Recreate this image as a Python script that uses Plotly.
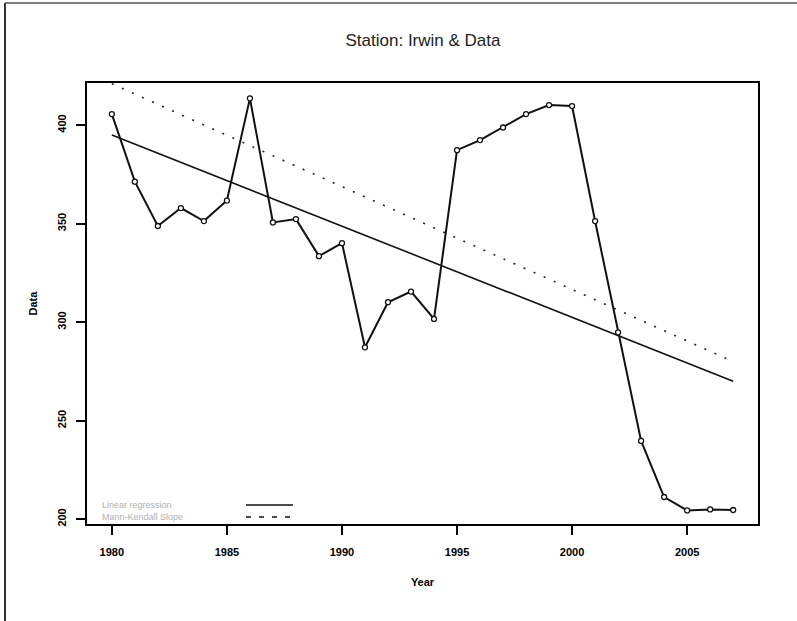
import plotly.graph_objects as go

# values
years = list(range(1980, 2008))
data = [405.6, 371.3, 348.8, 357.9, 351.3, 361.7, 413.6, 350.6, 352.3, 333.5,
        340.1, 287.2, 310.1, 315.5, 301.6, 387.3, 392.4, 398.8, 405.6, 410.2,
        409.7, 351.3, 294.8, 239.7, 211.2, 204.4, 204.9, 204.6]

trend_years = [1980, 2007]
linreg_ends = [395.0, 270.0]
mk_ends = [421.0, 280.0]

legend_labels = ['Linear regression', 'Mann-Kendall Slope']

W, H = 797, 621
L, R, T, B = 87, 39, 83, 97
pw, ph = W - L - R, H - T - B


def px_x(x):
    return (x - L) / pw


def px_y(y):
    return (H - B - y) / ph


fig = go.Figure()

fig.add_trace(go.Scatter(
    x=trend_years, y=linreg_ends, mode='lines',
    line=dict(color='#111111', width=1.6),
    name=legend_labels[0], showlegend=False
))

fig.add_trace(go.Scatter(
    x=trend_years, y=mk_ends, mode='lines',
    line=dict(color='#222222', width=1.6, dash='2px,9px'),
    name=legend_labels[1], showlegend=False
))

fig.add_trace(go.Scatter(
    x=years, y=data, mode='lines+markers',
    line=dict(color='#111111', width=2),
    marker=dict(symbol='circle', size=5, color='white',
                line=dict(color='#111111', width=1.3)),
    name='Data', showlegend=False
))

# hand-drawn legend in the lower left of the plot box
leg_font = dict(family='Liberation Sans, Arial', size=9, color='#b0b0b0')
for i, (label, dash) in enumerate(zip(legend_labels, ['solid', '5px,8px'])):
    ypix = 505 + i * 12
    fig.add_annotation(
        x=px_x(100), y=px_y(ypix), xref='paper', yref='paper',
        text=label, showarrow=False, xanchor='left', yanchor='middle',
        font=leg_font
    )
    fig.add_shape(
        type='line', xref='paper', yref='paper',
        x0=px_x(246), x1=px_x(293), y0=px_y(ypix), y1=px_y(ypix),
        line=dict(color='#111111', width=1.6, dash=dash)
    )

# outer window border (left and top)
fig.add_shape(type='line', xref='paper', yref='paper',
              x0=px_x(5), x1=px_x(5), y0=px_y(3), y1=px_y(H),
              line=dict(color='#333333', width=2))
fig.add_shape(type='line', xref='paper', yref='paper',
              x0=px_x(5), x1=px_x(W), y0=px_y(3), y1=px_y(3),
              line=dict(color='#555555', width=1.5))

tick_font = dict(family='Liberation Sans, Arial', size=11, color='black', weight='bold')

fig.update_layout(
    width=W, height=H,
    margin=dict(l=L, r=R, t=T, b=B),
    paper_bgcolor='white', plot_bgcolor='white',
    showlegend=False,
    title=dict(
        text='Station: Irwin & Data',
        x=px_x(423), xref='paper', xanchor='center',
        y=1 - 40 / H, yanchor='middle',
        font=dict(family='Liberation Sans, Arial', size=17, color='#222222')
    ),
    xaxis=dict(
        range=[1978.92, 2008.08],
        tickvals=[1980, 1985, 1990, 1995, 2000, 2005],
        ticks='outside', ticklen=9, tickwidth=1.5, tickcolor='black',
        ticklabelstandoff=8,
        showline=True, linecolor='black', linewidth=2, mirror=True,
        showgrid=False, zeroline=False,
        tickfont=tick_font,
        title=dict(text='Year', font=tick_font, standoff=21)
    ),
    yaxis=dict(
        range=[197.5, 421.4],
        tickvals=[200, 250, 300, 350, 400],
        ticks='outside', ticklen=9, tickwidth=1.5, tickcolor='black',
        tickangle=-90, ticklabelstandoff=6,
        showline=True, linecolor='black', linewidth=2, mirror=True,
        showgrid=False, zeroline=False,
        tickfont=tick_font,
        title=dict(text='Data', font=tick_font, standoff=16)
    )
)

fig.write_html('out.html', config={'displayModeBar': False},
               post_script="document.body.style.margin='0';document.body.style.overflow='hidden';")
